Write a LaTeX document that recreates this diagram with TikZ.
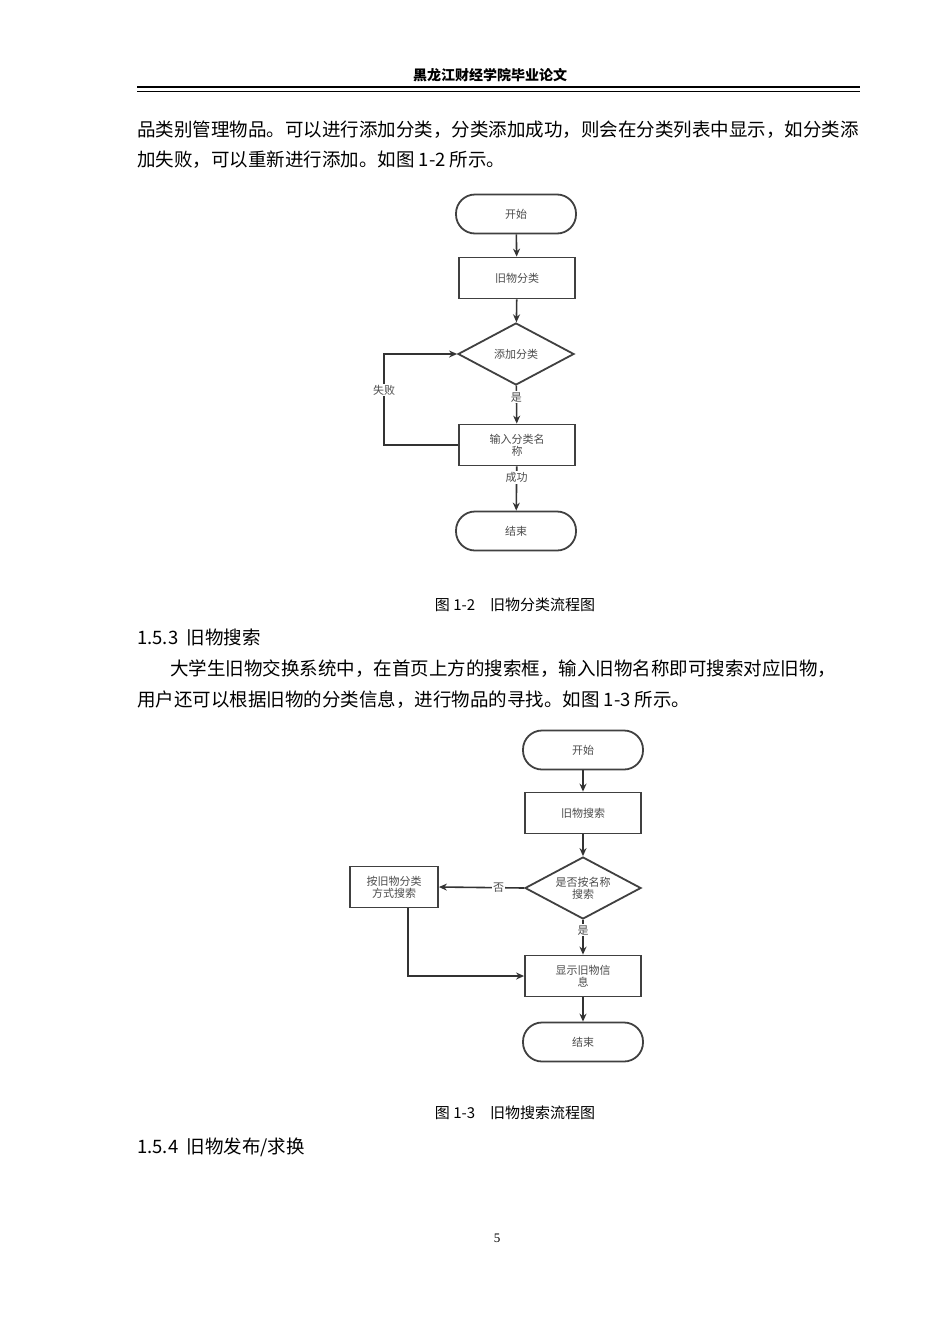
\documentclass[tikz,border=0pt]{standalone}
\usepackage{fontspec}
\setmainfont{Liberation Serif}
\newfontfamily\cjk{Noto Sans CJK SC}
\usetikzlibrary{shapes.geometric,arrows.meta}
\tikzset{
  body/.style={anchor=west,inner sep=0pt,font=\cjk\fontsize{18.5}{20}\selectfont},
  term/.style={draw=black!75,line width=1.8pt,rounded corners=19pt,minimum width=120pt,minimum height=39pt,font=\cjk\fontsize{11}{13}\selectfont,text=black!70},
  proc/.style={draw=black!75,line width=1.8pt,minimum width=116pt,minimum height=41pt,align=center,font=\cjk\fontsize{11}{12}\selectfont,text=black!70},
  dec/.style={draw=black!75,line width=1.8pt,diamond,minimum width=116pt,minimum height=62pt,inner sep=0pt,align=center,font=\cjk\fontsize{11}{12}\selectfont,text=black!70},
  dectext/.style={align=center,inner sep=0pt,font=\cjk\fontsize{11}{12}\selectfont,text=black!70},
  flow/.style={draw=black!80,line width=1.6pt,-{Stealth[length=8pt,width=7pt]}},
  lbl/.style={font=\cjk\fontsize{11}{12}\selectfont,text=black!70,fill=white,inner sep=1pt}
}
\begin{document}
\begin{tikzpicture}[x=1pt,y=-1pt]
\useasboundingbox[fill=white] (0,0) rectangle (950,1344);
% header
\node[font=\cjk\bfseries\fontsize{14}{16}\selectfont] (hdr) at (490,75) {黑龙江财经学院毕业论文};
\draw[line width=1.2pt] (137,87) -- (860,87);
\draw[line width=0.6pt] (137,91) -- (860,91);
% text
\node[body] (p1) at (137,130) {品类别管理物品。可以进行添加分类，分类添加成功，则会在分类列表中显示，如分类添};
\node[body] (p2) at (137,160) {加失败，可以重新进行添加。如图 1-2 所示。};
% figure 1-2
\node[term] (s1) at (516,214) {开始};
\node[proc] (c1) at (517,278) {旧物分类};
\node[dec] (d1) at (516,354) {添加分类};
\node[proc] (n1) at (517,445) {输入分类名\\称};
\node[term] (e1) at (516,531) {结束};
\coordinate (l1) at (384,445);
\coordinate (l2) at (384,354);
\draw[flow] (s1) -- (c1);
\draw[flow] (c1) -- (d1);
\draw[flow] (d1) -- node[lbl,pos=0.3] {是} (n1);
\draw[flow] (n1) -- node[lbl,pos=0.25] {成功} (e1);
\draw[flow] (n1.west) -- (l1) -- node[lbl,pos=0.6] {失败} (l2) -- (d1.west);
\node[font=\cjk\fontsize{15}{16}\selectfont] (cap1) at (515,605) {图 1-2\quad 旧物分类流程图};
\node[body] (h153) at (137,637) {1.5.3\ \ 旧物搜索};
\node[body] (p3) at (170,669) {大学生旧物交换系统中，在首页上方的搜索框，输入旧物名称即可搜索对应旧物，};
\node[body] (p4) at (137,700) {用户还可以根据旧物的分类信息，进行物品的寻找。如图 1-3 所示。};
% figure 1-3
\node[term] (s2) at (583,750) {开始};
\node[proc] (c2) at (583,813) {旧物搜索};
\node[dec] (d2) at (583,888) {};
\node[dectext] (d2t) at (d2) {是否按名称\\搜索};
\node[proc,minimum width=88pt] (k2) at (394,887) {按旧物分类\\方式搜索};
\node[proc] (n2) at (583,976) {显示旧物信\\息};
\node[term] (e2) at (583,1042) {结束};
\coordinate (m1) at (408,976);
\draw[flow] (s2) -- (c2);
\draw[flow] (c2) -- (d2);
\draw[flow] (d2.west) -- node[lbl,pos=0.3] {否} (k2.east);
\draw[flow] (d2) -- node[lbl,pos=0.3] {是} (n2);
\draw[flow] (n2) -- (e2);
\draw[flow] (k2.south -| m1) -- (m1) -- (n2.west);
\node[font=\cjk\fontsize{15}{16}\selectfont] (cap2) at (515,1113) {图 1-3\quad 旧物搜索流程图};
\node[body] (h154) at (137,1147) {1.5.4\ \ 旧物发布/求换};
\node[font=\fontsize{13}{14}\selectfont] (pg) at (497,1238) {5};
\end{tikzpicture}
\end{document}
